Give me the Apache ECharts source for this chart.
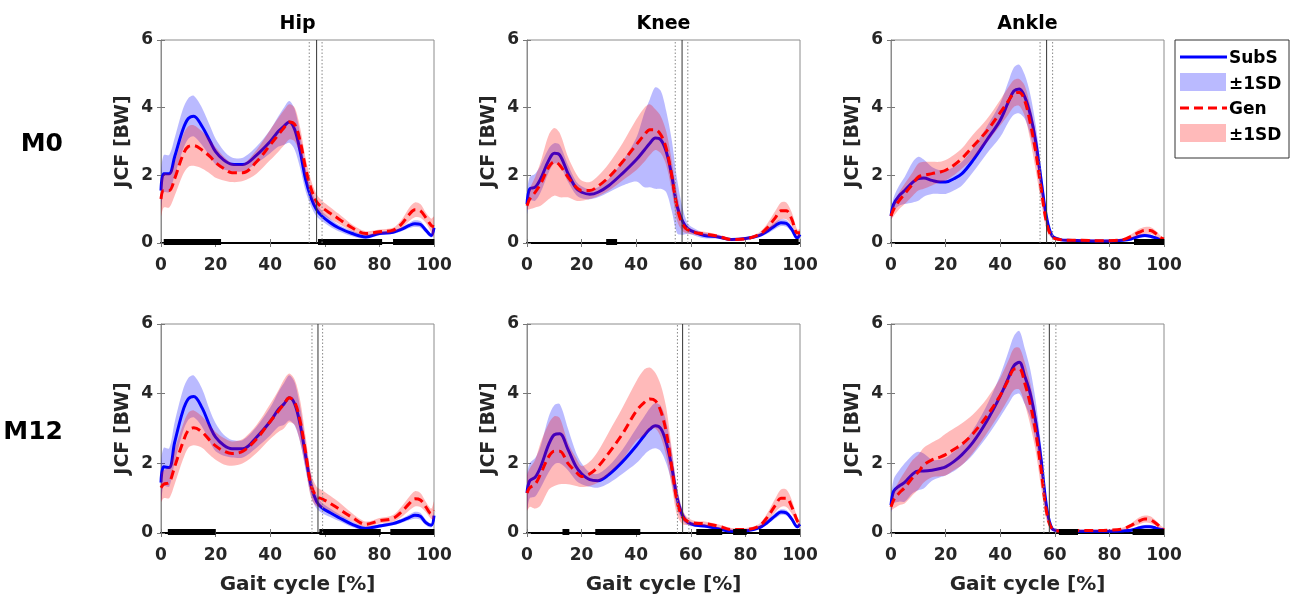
<!DOCTYPE html>
<html><head><meta charset="utf-8">
<script src="https://cdn.jsdelivr.net/npm/echarts@6/dist/echarts.min.js"></script>
<style>html,body{margin:0;padding:0;background:#fff}#c{width:1296px;height:603px}</style>
</head><body><div id="c"></div>
<script>
// ---- data ----
const gait = [0,1,3,5,8,10,12,15,18,20,23,26,30,35,40,43,45,47,49,51,53,55,57,59,62,65,70,75,80,85,88,91,93,95,97,99,100];
const xTicks = [0,20,40,60,80,100];
const yTicks = [0,2,4,6];
const joints = ['Hip','Knee','Ankle'];
const sessions = ['M0','M12'];

const hipM0SubS   = [1.55,2.05,2.05,2.55,3.35,3.68,3.75,3.45,3.0,2.7,2.45,2.33,2.32,2.6,3.0,3.3,3.45,3.58,3.35,2.7,1.87,1.33,0.98,0.79,0.6,0.45,0.28,0.18,0.28,0.32,0.4,0.52,0.57,0.55,0.38,0.22,0.45];
const hipM0SubSSD = [0.5,0.55,0.55,0.55,0.6,0.6,0.6,0.55,0.45,0.38,0.28,0.2,0.2,0.25,0.35,0.45,0.55,0.62,0.6,0.5,0.35,0.25,0.2,0.15,0.12,0.1,0.08,0.06,0.05,0.05,0.06,0.08,0.1,0.1,0.08,0.06,0.1];
const hipM0Gen    = [1.3,1.55,1.55,1.9,2.6,2.85,2.88,2.75,2.55,2.38,2.2,2.08,2.08,2.4,2.9,3.2,3.4,3.58,3.5,3.0,2.2,1.6,1.22,1.05,0.88,0.72,0.45,0.28,0.33,0.38,0.55,0.85,0.98,0.95,0.75,0.52,0.48];
const hipM0GenSD  = [0.5,0.5,0.5,0.5,0.58,0.6,0.6,0.55,0.5,0.45,0.35,0.28,0.25,0.35,0.45,0.5,0.52,0.52,0.5,0.4,0.3,0.25,0.22,0.2,0.18,0.15,0.1,0.07,0.07,0.07,0.12,0.2,0.22,0.2,0.15,0.2,0.3];

const kneeM0SubS   = [1.15,1.6,1.65,1.9,2.45,2.65,2.6,2.06,1.62,1.5,1.44,1.5,1.7,2.06,2.46,2.75,2.95,3.1,3.05,2.7,2.0,1.08,0.64,0.42,0.3,0.22,0.18,0.1,0.13,0.22,0.35,0.52,0.6,0.58,0.4,0.15,0.25];
const kneeM0SubSSD = [0.3,0.35,0.4,0.4,0.35,0.3,0.3,0.25,0.2,0.18,0.15,0.15,0.2,0.36,0.64,1.1,1.3,1.5,1.45,1.2,1.05,0.8,0.4,0.15,0.1,0.08,0.05,0.04,0.04,0.05,0.08,0.1,0.1,0.1,0.08,0.05,0.08];
const kneeM0Gen    = [1.1,1.3,1.5,1.75,2.25,2.4,2.3,1.95,1.65,1.55,1.55,1.68,1.95,2.4,2.9,3.2,3.35,3.35,3.2,2.8,2.0,1.05,0.55,0.38,0.3,0.27,0.2,0.1,0.12,0.25,0.45,0.75,0.95,0.95,0.7,0.3,0.3];
const kneeM0GenSD  = [0.1,0.3,0.45,0.65,0.95,1.0,0.95,0.6,0.4,0.3,0.25,0.3,0.4,0.55,0.75,0.8,0.75,0.6,0.55,0.5,0.45,0.4,0.2,0.1,0.06,0.06,0.05,0.04,0.04,0.06,0.12,0.2,0.25,0.25,0.2,0.1,0.1];

const ankleM0SubS   = [0.8,1.15,1.4,1.55,1.8,1.9,1.92,1.85,1.8,1.8,1.9,2.05,2.44,3.03,3.63,4.17,4.49,4.55,4.32,3.8,3.0,1.85,0.75,0.22,0.1,0.08,0.07,0.06,0.06,0.08,0.12,0.2,0.22,0.2,0.15,0.1,0.1];
const ankleM0SubSSD = [0.1,0.2,0.3,0.4,0.6,0.65,0.55,0.4,0.35,0.35,0.35,0.35,0.35,0.4,0.5,0.6,0.7,0.72,0.65,0.6,0.5,0.35,0.2,0.05,0.03,0.03,0.03,0.03,0.03,0.03,0.04,0.05,0.05,0.05,0.04,0.03,0.03];
const ankleM0Gen    = [0.8,1.0,1.25,1.45,1.75,1.95,2.0,2.05,2.1,2.15,2.3,2.5,2.85,3.3,3.85,4.2,4.42,4.45,4.2,3.55,2.7,1.6,0.6,0.18,0.1,0.08,0.08,0.07,0.07,0.1,0.2,0.32,0.37,0.37,0.28,0.15,0.12];
const ankleM0GenSD  = [0.1,0.2,0.25,0.3,0.35,0.4,0.4,0.35,0.3,0.3,0.3,0.3,0.35,0.35,0.38,0.4,0.4,0.4,0.45,0.5,0.55,0.4,0.2,0.05,0.03,0.03,0.03,0.03,0.03,0.04,0.06,0.1,0.1,0.1,0.08,0.05,0.04];

const hipM12SubS   = [1.45,1.9,1.88,2.6,3.5,3.85,3.92,3.6,3.05,2.75,2.52,2.42,2.42,2.75,3.2,3.55,3.7,3.88,3.7,3.1,2.2,1.35,0.9,0.72,0.58,0.45,0.25,0.13,0.2,0.27,0.35,0.45,0.51,0.48,0.3,0.22,0.5];
const hipM12SubSSD = [0.55,0.55,0.55,0.58,0.6,0.6,0.6,0.55,0.45,0.4,0.3,0.25,0.25,0.3,0.4,0.5,0.6,0.65,0.62,0.5,0.4,0.3,0.2,0.15,0.12,0.1,0.08,0.06,0.05,0.05,0.06,0.08,0.1,0.1,0.08,0.06,0.1];
const hipM12Gen    = [1.3,1.4,1.45,1.9,2.6,2.95,3.02,2.9,2.65,2.5,2.35,2.28,2.35,2.7,3.2,3.5,3.7,3.88,3.75,3.2,2.3,1.35,1.05,0.98,0.85,0.7,0.45,0.25,0.35,0.42,0.6,0.85,0.98,0.95,0.75,0.55,0.65];
const hipM12GenSD  = [0.4,0.4,0.45,0.5,0.5,0.5,0.5,0.45,0.42,0.4,0.38,0.35,0.35,0.4,0.5,0.6,0.7,0.7,0.65,0.6,0.45,0.35,0.28,0.25,0.22,0.2,0.12,0.08,0.08,0.1,0.15,0.2,0.22,0.2,0.15,0.15,0.25];

const kneeM12SubS   = [1.15,1.5,1.6,1.9,2.55,2.82,2.85,2.4,1.9,1.7,1.53,1.5,1.68,2.05,2.5,2.8,2.98,3.08,3.0,2.6,1.9,1.0,0.5,0.3,0.22,0.2,0.12,0.05,0.06,0.15,0.3,0.5,0.6,0.58,0.4,0.18,0.25];
const kneeM12SubSSD = [0.5,0.5,0.55,0.6,0.8,0.85,0.85,0.6,0.4,0.3,0.2,0.2,0.25,0.35,0.5,0.55,0.6,0.65,0.65,0.6,0.45,0.3,0.15,0.08,0.05,0.05,0.04,0.03,0.03,0.04,0.06,0.08,0.08,0.08,0.06,0.05,0.05];
const kneeM12Gen    = [1.15,1.3,1.4,1.7,2.2,2.35,2.35,2.0,1.75,1.62,1.7,1.9,2.3,2.85,3.5,3.75,3.85,3.8,3.5,2.9,1.9,0.9,0.45,0.33,0.28,0.27,0.2,0.1,0.1,0.2,0.45,0.8,1.0,1.0,0.75,0.35,0.25];
const kneeM12GenSD  = [0.5,0.55,0.7,0.9,0.95,1.0,0.95,0.6,0.4,0.3,0.35,0.45,0.6,0.75,0.85,0.95,0.9,0.8,0.75,0.7,0.55,0.4,0.2,0.1,0.06,0.06,0.05,0.04,0.04,0.06,0.12,0.2,0.25,0.25,0.2,0.1,0.1];

const ankleM12SubS   = [0.8,1.2,1.35,1.45,1.7,1.78,1.78,1.8,1.85,1.9,2.05,2.25,2.6,3.2,3.93,4.45,4.8,4.9,4.5,4.0,3.2,2.1,0.75,0.13,0.06,0.05,0.05,0.05,0.05,0.06,0.08,0.15,0.18,0.18,0.14,0.1,0.1];
const ankleM12SubSSD = [0.2,0.35,0.45,0.55,0.55,0.55,0.5,0.3,0.25,0.25,0.28,0.3,0.35,0.45,0.6,0.75,0.85,0.9,0.8,0.7,0.6,0.4,0.2,0.05,0.03,0.03,0.03,0.03,0.03,0.03,0.04,0.05,0.05,0.05,0.04,0.03,0.03];
const ankleM12Gen    = [0.75,0.95,1.15,1.3,1.6,1.75,1.95,2.1,2.18,2.25,2.4,2.55,2.85,3.35,3.95,4.4,4.7,4.72,4.3,3.7,2.9,1.8,0.6,0.12,0.06,0.06,0.07,0.07,0.08,0.12,0.22,0.35,0.4,0.38,0.28,0.15,0.1];
const ankleM12GenSD  = [0.1,0.25,0.35,0.45,0.5,0.5,0.5,0.5,0.55,0.6,0.6,0.6,0.55,0.5,0.5,0.55,0.6,0.6,0.6,0.6,0.55,0.5,0.25,0.05,0.03,0.03,0.03,0.03,0.03,0.04,0.06,0.1,0.1,0.1,0.08,0.05,0.04];

// significant differences (gait cycle ranges)
const hipM0Sig    = [[1,22],[57.5,81],[85,100]];
const kneeM0Sig   = [[29,33],[85,99.5]];
const ankleM0Sig  = [[89,100]];
const hipM12Sig   = [[2.5,20],[58,80.5],[84,100]];
const kneeM12Sig  = [[13,15.5],[25,41.5],[62,71.5],[75.5,80.5],[85,100]];
const ankleM12Sig = [[61.5,68.5],[88.5,100]];

// toe-off (mean, mean-SD, mean+SD) per panel: Hip, Knee, Ankle for M0 then M12
const toeOff     = [57.0,56.8,57.0,57.5,57.0,58.0];
const toeOffLow  = [54.3,54.3,54.6,55.3,55.1,56.0];
const toeOffHigh = [59.0,58.9,59.2,59.2,59.3,60.4];

// ---- layout / style ----
const FONT = 'DejaVu Sans';
const TXT = '#262626';
const colLeft = [161, 527, 891];
const rowTop = [40, 324];
const rowH = [203, 209];
const PW = 273;
const BLUE_BAND = 'rgba(0,0,255,0.27)';
const RED_BAND = 'rgba(255,0,0,0.27)';

const panels = [
  [hipM0SubS, hipM0SubSSD, hipM0Gen, hipM0GenSD, hipM0Sig],
  [kneeM0SubS, kneeM0SubSSD, kneeM0Gen, kneeM0GenSD, kneeM0Sig],
  [ankleM0SubS, ankleM0SubSSD, ankleM0Gen, ankleM0GenSD, ankleM0Sig],
  [hipM12SubS, hipM12SubSSD, hipM12Gen, hipM12GenSD, hipM12Sig],
  [kneeM12SubS, kneeM12SubSSD, kneeM12Gen, kneeM12GenSD, kneeM12Sig],
  [ankleM12SubS, ankleM12SubSSD, ankleM12Gen, ankleM12GenSD, ankleM12Sig]
];

const grid = [], xAxis = [], yAxis = [], series = [];
const SM = 0.35;

function bandSeries(xi, yi, m, s, color, z) {
  return {type: 'custom', xAxisIndex: xi, yAxisIndex: yi, clip: true, z: z, silent: true,
    data: gait.map((x, i) => [x, m[i] - s[i], m[i] + s[i]]), encode: {x: 0, y: [1, 2]},
    renderItem: (params, api) => {
      if (params.dataIndex !== 0) return null;
      const n = gait.length, up = [], lo = [];
      for (let i = 0; i < n; i++) {
        up.push(api.coord([api.value(0, i), api.value(2, i)]));
        lo.push(api.coord([api.value(0, i), api.value(1, i)]));
      }
      const pts = up.concat(lo.reverse());
      return {type: 'polygon', shape: {points: pts, smooth: 0.3}, style: {fill: color}};
    }};
}

panels.forEach((pd, p) => {
  const r = Math.floor(p / 3), c = p % 3;
  grid.push({left: colLeft[c], top: rowTop[r], width: PW, height: rowH[r], show: true,
    borderColor: '#8c8c8c', borderWidth: 1, backgroundColor: 'transparent'});
  const lab = {fontFamily: FONT, fontWeight: 'bold', fontSize: 17, color: TXT};
  xAxis.push({gridIndex: p, type: 'value', min: xTicks[0], max: xTicks[xTicks.length-1], interval: 20,
    position: 'bottom',
    axisLine: {show: true, onZero: false, lineStyle: {color: '#000', width: 2}},
    axisTick: {show: true, inside: true, length: 4, lineStyle: {color: '#777'}},
    axisLabel: Object.assign({margin: 14}, lab), splitLine: {show: false},
    name: r === 1 ? 'Gait cycle [%]' : '', nameLocation: 'middle', nameGap: 42,
    nameTextStyle: {fontFamily: FONT, fontWeight: 'bold', fontSize: 20, color: TXT}});
  xAxis.push({gridIndex: p, type: 'value', min: 0, max: 100, interval: 20, position: 'top',
    axisLine: {show: false}, axisTick: {show: true, inside: true, length: 4, lineStyle: {color: '#777'}},
    axisLabel: {show: false}, splitLine: {show: false}});
  yAxis.push({gridIndex: p, type: 'value', min: yTicks[0], max: yTicks[yTicks.length-1], interval: 2,
    position: 'left',
    axisLine: {show: true, lineStyle: {color: '#8c8c8c'}},
    axisTick: {show: true, inside: true, length: 4, lineStyle: {color: '#777'}},
    axisLabel: Object.assign({margin: 8}, lab), splitLine: {show: false},
    name: 'JCF [BW]', nameLocation: 'middle', nameGap: 28, nameRotate: 90,
    nameTextStyle: {fontFamily: FONT, fontWeight: 'bold', fontSize: 19, color: TXT}});
  yAxis.push({gridIndex: p, type: 'value', min: 0, max: 6, interval: 2, position: 'right',
    axisLine: {show: false}, axisTick: {show: true, inside: true, length: 4, lineStyle: {color: '#777'}},
    axisLabel: {show: false}, splitLine: {show: false}});

  const xi = 2 * p, yi = 2 * p;
  const [sM, sS, gM, gS, sig] = pd;
  series.push(bandSeries(xi, yi, sM, sS, BLUE_BAND, 1));
  series.push({type: 'line', xAxisIndex: xi, yAxisIndex: yi, data: gait.map((x, i) => [x, sM[i]]),
    symbol: 'none', smooth: SM, lineStyle: {color: '#0000ff', width: 3}, z: 2});
  series.push(bandSeries(xi, yi, gM, gS, RED_BAND, 3));
  series.push({type: 'line', xAxisIndex: xi, yAxisIndex: yi, data: gait.map((x, i) => [x, gM[i]]),
    symbol: 'none', smooth: SM, lineStyle: {color: '#ff0000', width: 3, type: [9, 5]}, z: 4});
  // significance bars
  series.push({type: 'custom', xAxisIndex: xi, yAxisIndex: yi, clip: false, z: 5,
    data: sig.map(s => [s[0], s[1], 0]), encode: {x: [0, 1], y: 2},
    renderItem: (params, api) => {
      const a = api.coord([api.value(0), 0]), b = api.coord([api.value(1), 0]);
      return {type: 'line', shape: {x1: a[0], y1: a[1] - 1, x2: b[0], y2: b[1] - 1},
        style: {stroke: '#000', lineWidth: 6}};
    }});
  // toe-off lines
  series.push({type: 'custom', xAxisIndex: xi, yAxisIndex: yi, z: 6,
    data: [[toeOff[p], 0], [toeOffLow[p], 1], [toeOffHigh[p], 1]], encode: {x: 0, y: 1},
    renderItem: (params, api) => {
      const v = api.value(0), dotted = api.value(1) === 1;
      const a = api.coord([v, 0]), b = api.coord([v, 6]);
      return {type: 'line', shape: {x1: a[0], y1: a[1], x2: b[0], y2: b[1]},
        style: {stroke: dotted ? '#888' : '#333', lineWidth: 1, lineDash: dotted ? [1.5, 2] : null}};
    }});
});

const graphic = [];
joints.forEach((j, c) => graphic.push({type: 'text', x: colLeft[c] + PW / 2, y: 24,
  style: {text: j, font: 'bold 19px "DejaVu Sans"', fill: '#000', textAlign: 'center', textVerticalAlign: 'middle'}}));
sessions.forEach((s, r) => graphic.push({type: 'text', x: 63, y: r === 0 ? 144 : 432,
  style: {text: s, font: 'bold 25px "DejaVu Sans"', fill: '#000', textAlign: 'right', textVerticalAlign: 'middle'}}));
// legend
const LX = 1175, LY = 40;
graphic.push({type: 'rect', shape: {x: LX, y: LY, width: 114, height: 118}, style: {fill: '#fff', stroke: '#333', lineWidth: 1}, z: 10});
graphic.push({type: 'line', shape: {x1: 1180, y1: 57, x2: 1227, y2: 57}, style: {stroke: '#0000ff', lineWidth: 3}, z: 11});
graphic.push({type: 'rect', shape: {x: 1180, y: 73, width: 46, height: 18}, style: {fill: BLUE_BAND}, z: 11});
graphic.push({type: 'line', shape: {x1: 1180, y1: 108, x2: 1227, y2: 108}, style: {stroke: '#ff0000', lineWidth: 3, lineDash: [9, 5]}, z: 11});
graphic.push({type: 'rect', shape: {x: 1180, y: 124, width: 46, height: 18}, style: {fill: RED_BAND}, z: 11});
[['SubS', 59], ['\u00b11SD', 85], ['Gen', 110], ['\u00b11SD', 136]].forEach(t => graphic.push({type: 'text', x: 1229, y: t[1], z: 11,
  style: {text: t[0], font: 'bold 17px "DejaVu Sans"', fill: '#000', textAlign: 'left', textVerticalAlign: 'middle'}}));

const chart = echarts.init(document.getElementById('c'), null, {renderer: 'canvas'});
chart.setOption({animation: false, backgroundColor: '#fff', grid, xAxis, yAxis, series, graphic});
</script></body></html>
